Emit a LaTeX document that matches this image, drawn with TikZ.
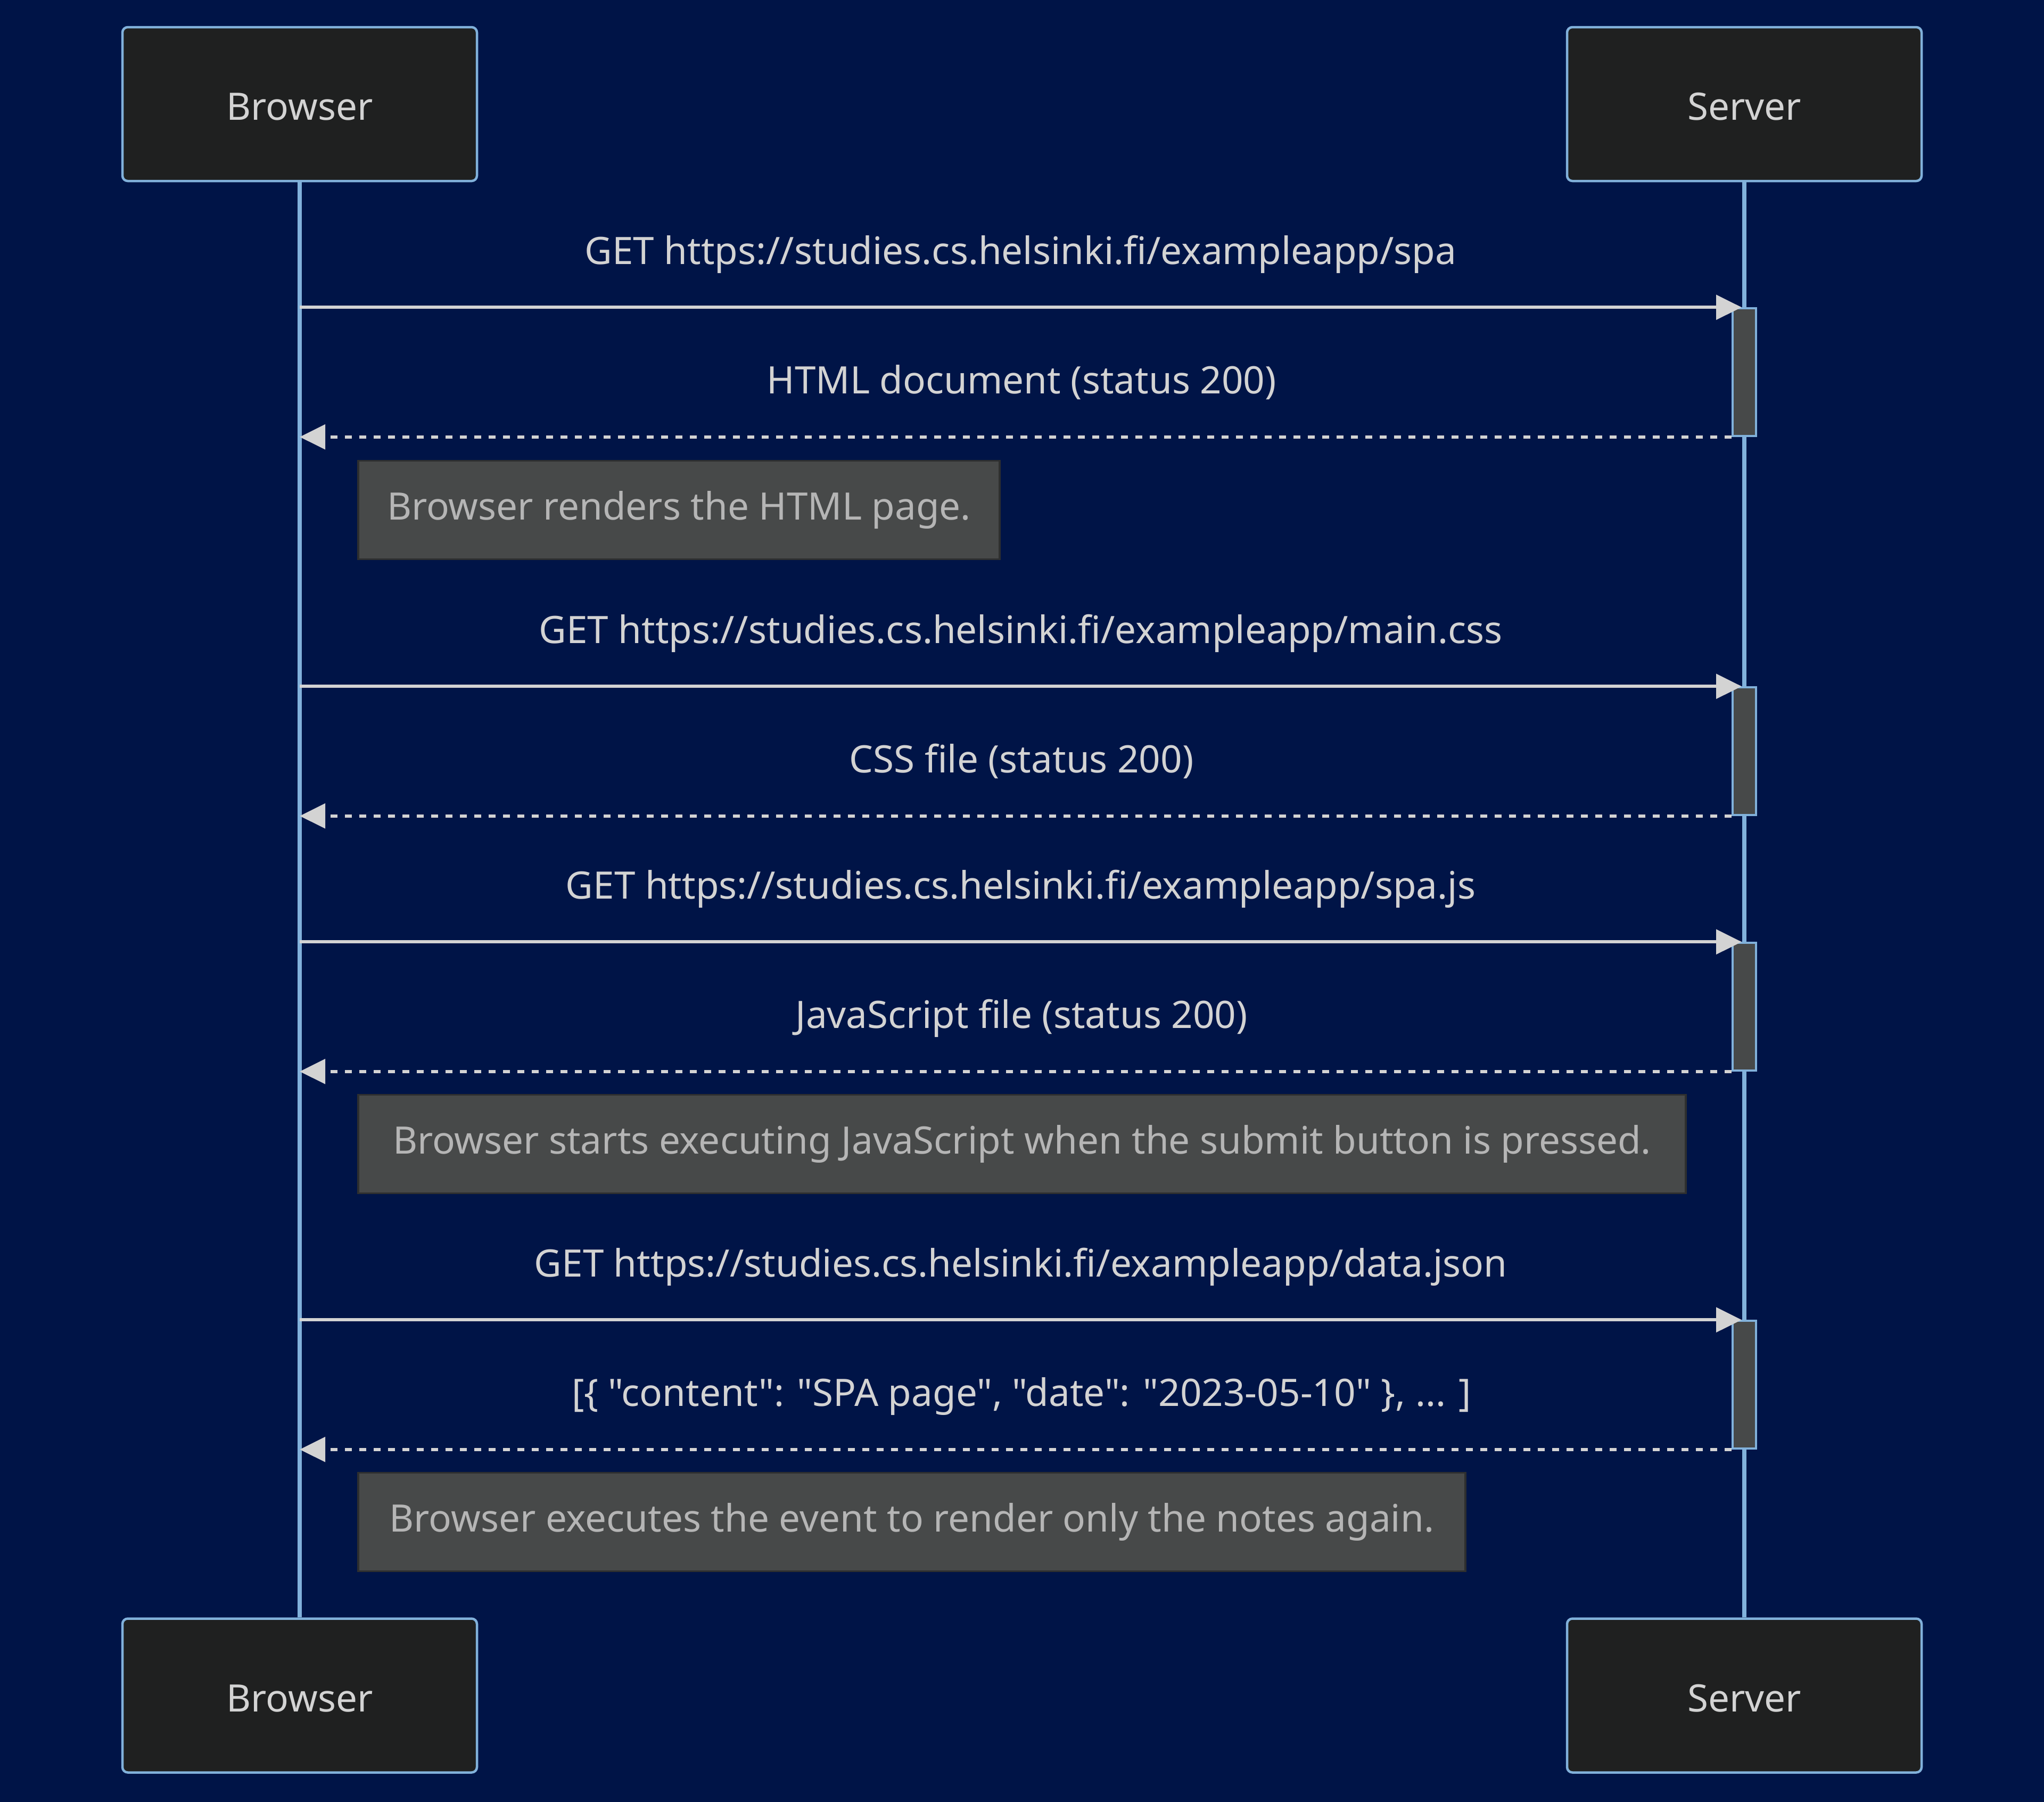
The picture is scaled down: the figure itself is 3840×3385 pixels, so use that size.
\documentclass[tikz,border=0pt]{standalone}
\usepackage{fontspec}
\setmainfont{Noto Sans}[Ligatures=TeXOff]
\usetikzlibrary{arrows.meta}

\definecolor{bgnavy}{HTML}{001447}
\definecolor{actorfill}{HTML}{1F2020}
\definecolor{actorline}{HTML}{81B1DB}
\definecolor{msgline}{HTML}{D3D3D3}
\definecolor{msgtext}{HTML}{D3D3D3}
\definecolor{notefill}{HTML}{474949}
\definecolor{noteline}{HTML}{2E2F2F}
\definecolor{notetext}{HTML}{B5B5B5}

\tikzset{
  txt/.style={font=\fontsize{20.2pt}{24pt}\selectfont},
  actor/.style={txt, rectangle, rounded corners=1mm, draw=actorline, fill=actorfill,
    line width=0.45mm, minimum width=66.6mm, minimum height=28.9mm, text=msgtext,
    inner sep=0pt, text depth=0pt, text height=6mm},
  lifeline/.style={draw=actorline, line width=0.8mm},
  activation/.style={rectangle, draw=actorline, fill=notefill, line width=0.35mm,
    minimum width=4.4mm, minimum height=24mm, inner sep=0pt},
  msg/.style={draw=msgline, line width=0.6mm, -{Triangle[length=4.8mm,width=4.6mm]}},
  reply/.style={msg, dash pattern=on 1.3mm off 1.4mm},
  msglabel/.style={txt, text=msgtext, anchor=base, yshift=8.1mm, inner sep=0pt},
  replylabel/.style={msglabel, xshift=1.1mm},
  note/.style={txt, rectangle, draw=noteline, fill=notefill, line width=0.35mm,
    text=notetext, minimum height=18.5mm, inner sep=0pt},
}

\begin{document}
\begin{tikzpicture}[x=0.1mm, y=-0.1mm]
  \fill[bgnavy] (0,0) rectangle (3840,3385);
  \useasboundingbox (0,0) rectangle (3840,3385);

  % participants, top and bottom
  \node[actor] (bt) at (563,195.5) {Browser};
  \node[actor] (st) at (3277,195.5) {Server};
  \node[actor] (bb) at (563,3185) {Browser};
  \node[actor] (sb) at (3277,3185) {Server};

  % lifelines
  \draw[lifeline] (bt.south) -- (bb.north);
  \draw[lifeline] (st.south) -- (sb.north);

  % activation bars on the server
  \node[activation] (a1) at (3277,699) {};
  \node[activation] (a2) at (3277,1411) {};
  \node[activation] (a3) at (3277,1891) {};
  \node[activation] (a4) at (3277,2601) {};

  % requests and responses
  \draw[msg] (a1.north -| bt.south) -- ([xshift=-0.5mm]a1.north)
    node[midway, msglabel] (l1) {GET https://studies.cs.helsinki.fi/exampleapp/spa};
  \draw[reply] (a1.south west) -- (a1.south west -| bt.south)
    node[midway, replylabel] (l2) {HTML document (status 200)};

  \draw[msg] (a2.north -| bt.south) -- ([xshift=-0.5mm]a2.north)
    node[midway, msglabel] (l3) {GET https://studies.cs.helsinki.fi/exampleapp/main.css};
  \draw[reply] (a2.south west) -- (a2.south west -| bt.south)
    node[midway, replylabel] (l4) {CSS file (status 200)};

  \draw[msg] (a3.north -| bt.south) -- ([xshift=-0.5mm]a3.north)
    node[midway, msglabel] (l5) {GET https://studies.cs.helsinki.fi/exampleapp/spa.js};
  \draw[reply] (a3.south west) -- (a3.south west -| bt.south)
    node[midway, replylabel] (l6) {JavaScript file (status 200)};

  \draw[msg] (a4.north -| bt.south) -- ([xshift=-0.5mm]a4.north)
    node[midway, msglabel] (l7) {GET https://studies.cs.helsinki.fi/exampleapp/data.json};
  \draw[reply] (a4.south west) -- (a4.south west -| bt.south)
    node[midway, replylabel] (l8) {[\{ "content": "SPA page", "date": "2023-05-10" \}, ... ]};

  % notes
  \node[note, minimum width=120.5mm] (n1) at (1275.5,958) {Browser renders the HTML page.};
  \node[note, minimum width=249.4mm] (n2) at (1920,2149) {Browser starts executing JavaScript when the submit button is pressed.};
  \node[note, minimum width=208mm] (n3) at (1713,2859) {Browser executes the event to render only the notes again.};
\end{tikzpicture}
\end{document}
